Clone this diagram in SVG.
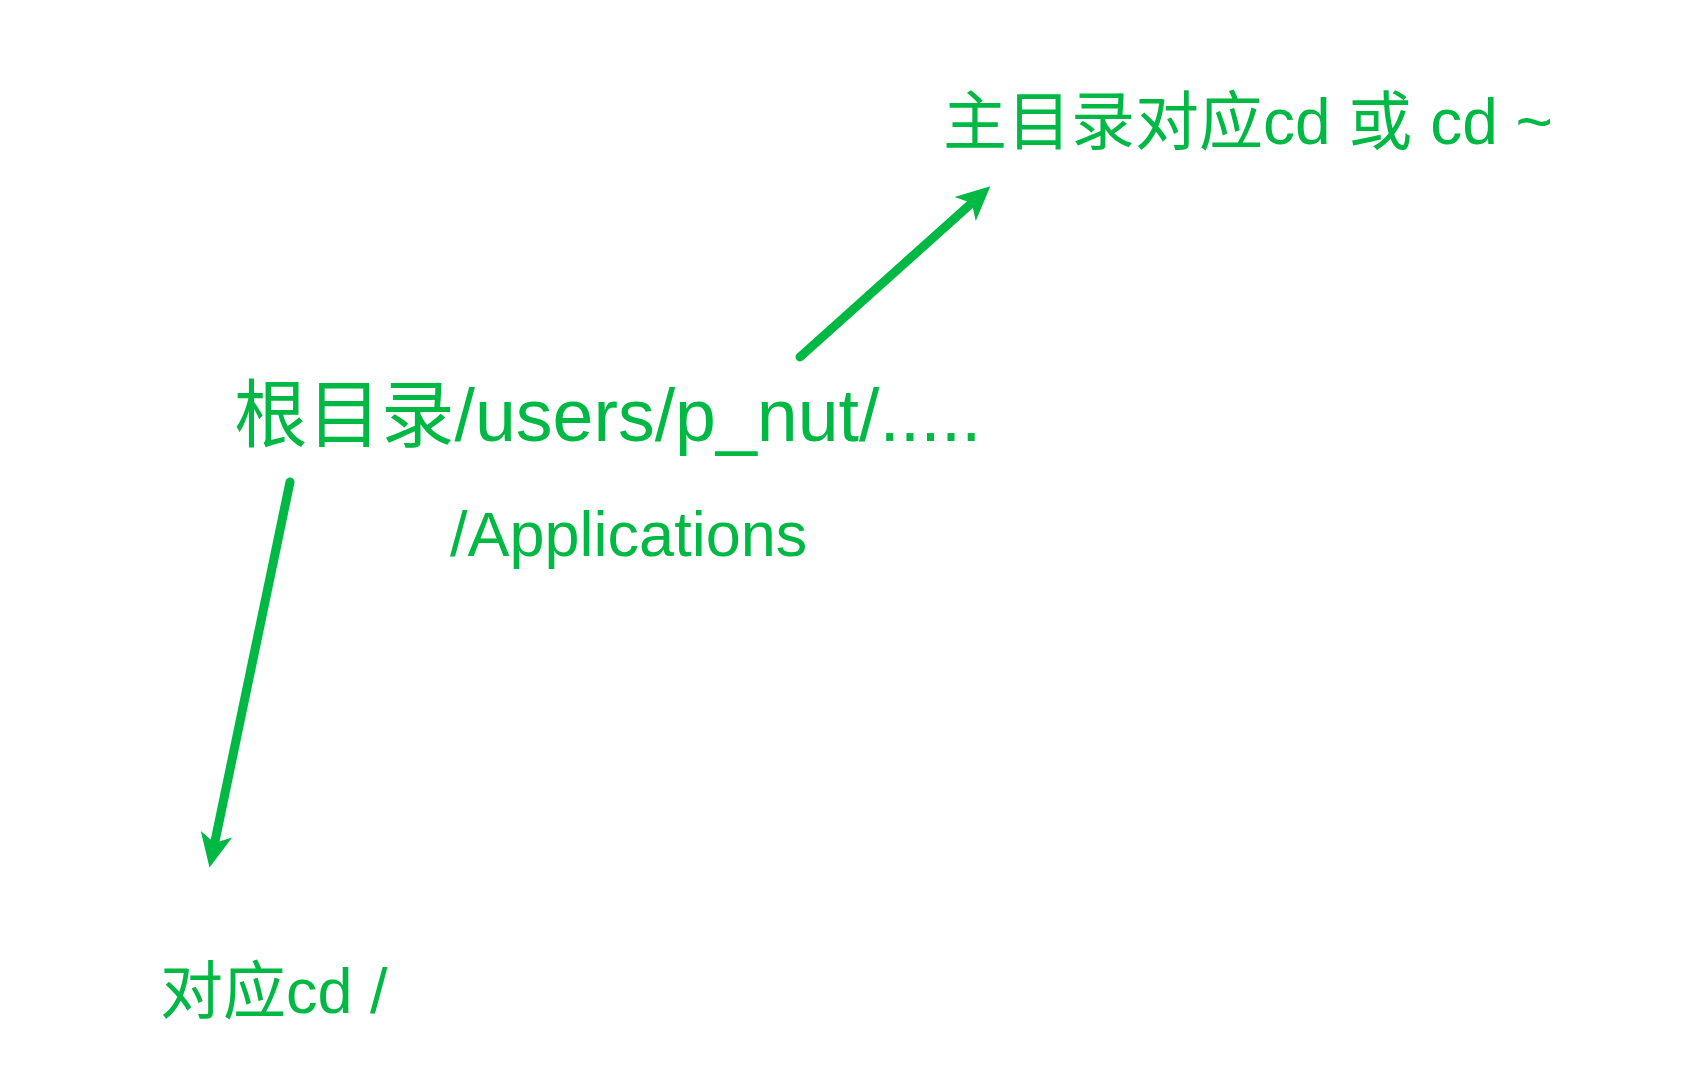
<svg xmlns="http://www.w3.org/2000/svg" width="1694" height="1072" viewBox="0 0 1694 1072">
<style>
.t{font-family:"Liberation Sans","Noto Sans CJK SC",sans-serif;fill:#00b944}
.c{stroke:#00b944;stroke-width:9;stroke-linecap:round;fill:none}
</style>
<defs>
<marker id="ah" viewBox="0 0 34 34" markerUnits="userSpaceOnUse" markerWidth="34" markerHeight="34" refX="12" refY="17" orient="auto">
<path d="M0,1 L34,17 L0,33 L9,17 z" fill="#00b944"/>
</marker>
</defs>
<rect width="1694" height="1072" fill="#fff"/>
<g id="home"><text class="t" x="943" y="144" font-size="64">主目录对应cd 或 cd ~</text></g>
<g id="root"><text class="t" x="234" y="441" font-size="73.5">根目录/users/p_nut/.....</text></g>
<g id="apps"><text class="t" x="450" y="556" font-size="63">/Applications</text></g>
<g id="slash"><text class="t" x="160" y="1013" font-size="63">对应cd /</text></g>
<g id="connectors">
<path class="c" d="M800,357 L974,201" marker-end="url(#ah)"/>
<path class="c" d="M290,482 L214,846" marker-end="url(#ah)"/>
</g>
</svg>
